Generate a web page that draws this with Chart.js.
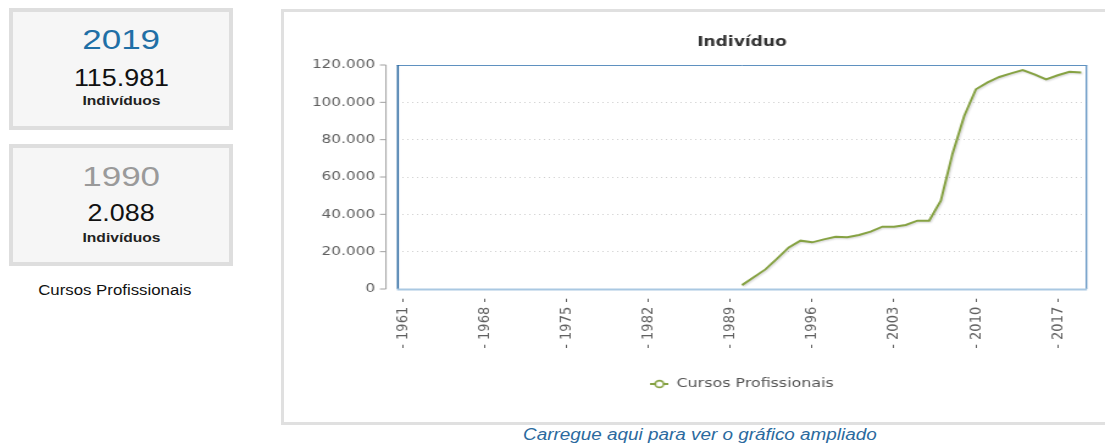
<!DOCTYPE html>
<html lang="pt">
<head>
<meta charset="utf-8">
<title>Cursos Profissionais</title>
<script src="https://cdn.jsdelivr.net/npm/chart.js@4/dist/chart.umd.min.js"></script>
<style>
body{margin:0;width:1105px;height:443px;overflow:hidden;background:#fff;font-family:Arial,"Liberation Sans",sans-serif;position:relative}
.box{position:absolute;left:9px;width:224px;height:122px;box-sizing:border-box;border:4px solid #dedede;background:#f6f6f6}
.txt{position:absolute;left:9px;width:224px;text-align:center;white-space:nowrap}
.txt span{display:inline-block}
.big{font-size:28px;line-height:32px}
.num{font-size:24px;line-height:28px;color:#111}
.num span{transform:scaleX(1.12)}
.big span{transform:scaleX(1.25)}
.unit{font-size:13px;line-height:16px;font-weight:bold;color:#222}
.unit span{transform:scaleX(1.2)}
#panel{position:absolute;left:281px;top:9px;width:840px;height:416px;box-sizing:border-box;border:3px solid #e0e0e0;background:#fff}
#wrap{position:absolute;left:284px;top:12px;width:673px;height:410px;transform:scaleX(1.22);transform-origin:0 0}
#link{position:absolute;left:400px;width:600px;top:426px;text-align:center;font-size:16px;line-height:18px;font-style:italic;color:#2b6a9e;white-space:nowrap}
#link span{display:inline-block;transform:scaleX(1.18)}
</style>
</head>
<body>

<div class="box" style="top:8px"></div>
<div class="box" style="top:144px"></div>

<div class="txt big" style="top:24px;color:#1f6fa6"><span>2019</span></div>
<div class="txt num" style="top:64px"><span>115.981</span></div>
<div class="txt unit" style="top:93px"><span>Indivíduos</span></div>

<div class="txt big" style="top:161px;color:#9a9a9a"><span>1990</span></div>
<div class="txt num" style="top:199px"><span>2.088</span></div>
<div class="txt unit" style="top:230px"><span>Indivíduos</span></div>

<div class="txt" style="top:281px;left:3px;font-size:14px;line-height:18px;color:#111"><span style="transform:scaleX(1.2)">Cursos Profissionais</span></div>

<div id="panel"></div>
<div id="wrap"><canvas id="chart" width="673" height="410"></canvas></div>

<div id="link"><span>Carregue aqui para ver o gráfico ampliado</span></div>

<script>
const years = ['1961','1962','1963','1964','1965','1966','1967','1968','1969','1970',
    '1971','1972','1973','1974','1975','1976','1977','1978','1979','1980',
    '1981','1982','1983','1984','1985','1986','1987','1988','1989','1990',
    '1991','1992','1993','1994','1995','1996','1997','1998','1999','2000',
    '2001','2002','2003','2004','2005','2006','2007','2008','2009','2010',
    '2011','2012','2013','2014','2015','2016','2017','2018','2019'];

const dataYears = ['1990','1991','1992','1993','1994','1995','1996','1997','1998','1999',
    '2000','2001','2002','2003','2004','2005','2006','2007','2008','2009',
    '2010','2011','2012','2013','2014','2015','2016','2017','2018','2019'];

const individuos = [2088, 6300, 10500, 16300, 22300, 25900, 25000, 26600, 28000, 27700,
    28900, 30700, 33400, 33400, 34300, 36600, 36600, 47300, 72500, 92700,
    107000, 110700, 113600, 115500, 117300, 115000, 112300, 114500, 116400, 115981];

const tickYears = ['1961','1968','1975','1982','1989','1996','2003','2010','2017'];

const seriesName = 'Cursos Profissionais';
const yMax = 120000;
const yStep = 20000;
const lineColor = '#86a243';

function fmt(v){
    return String(v).replace(/\B(?=(\d{3})+(?!\d))/g, '.');
}

// legend marker: line with a small hollow circle
let marker = document.createElement('canvas');
marker.width = 15;
marker.height = 10;
let m = marker.getContext('2d');
m.strokeStyle = lineColor;
m.lineWidth = 2;
m.beginPath(); m.moveTo(0,5); m.lineTo(15,5); m.stroke();
m.beginPath(); m.arc(7.5,5,3.4,0,Math.PI*2);
m.fillStyle = '#fff'; m.fill();
m.lineWidth = 1.6; m.stroke();

// y axis line set apart from the plot box, plus the box itself
const frame = {
    id: 'frame',
    beforeDatasetsDraw(chart){
        const ctx = chart.ctx;
        const a = chart.chartArea;
        const y = chart.scales.y;
        ctx.save();
        const ax = a.left - 9;
        ctx.strokeStyle = '#a0a0a0';
        ctx.lineWidth = 1;
        ctx.beginPath();
        ctx.moveTo(ax, y.getPixelForValue(yMax));
        ctx.lineTo(ax, y.getPixelForValue(0));
        y.ticks.forEach(function(t){
            const py = y.getPixelForValue(t.value);
            ctx.moveTo(ax - 5, py);
            ctx.lineTo(ax, py);
        });
        ctx.stroke();

        ctx.strokeStyle = '#5f91c0';
        ctx.lineWidth = 1;
        ctx.beginPath();
        ctx.moveTo(a.left, a.top + 0.5);
        ctx.lineTo(a.right, a.top + 0.5);
        ctx.stroke();
        ctx.lineWidth = 1.3;
        ctx.beginPath();
        ctx.moveTo(a.right - 0.5, a.top);
        ctx.lineTo(a.right - 0.5, a.bottom);
        ctx.stroke();
        ctx.strokeStyle = '#25649e';
        ctx.lineWidth = 1.5;
        ctx.beginPath();
        ctx.moveTo(a.left + 0.75, a.top);
        ctx.lineTo(a.left + 0.75, a.bottom);
        ctx.stroke();
        ctx.strokeStyle = '#a9c8e2';
        ctx.lineWidth = 2;
        ctx.beginPath();
        ctx.moveTo(a.left, a.bottom + 0.5);
        ctx.lineTo(a.right, a.bottom + 0.5);
        ctx.stroke();
        ctx.restore();
    },
    beforeDatasetDraw(chart){
        const ctx = chart.ctx;
        ctx.save();
        ctx.shadowColor = 'rgba(0,0,0,0.18)';
        ctx.shadowOffsetX = 1;
        ctx.shadowOffsetY = 1;
        ctx.shadowBlur = 2;
    },
    afterDatasetDraw(chart){
        chart.ctx.restore();
    }
};

Chart.defaults.font.family = '"DejaVu Sans", Verdana, sans-serif';

new Chart(document.getElementById('chart'), {
    type: 'line',
    data: {
        labels: years,
        datasets: [{
            label: seriesName,
            data: dataYears.map(function(yr, i){ return {x: yr, y: individuos[i]}; }),
            borderColor: lineColor,
            backgroundColor: lineColor,
            borderWidth: 2,
            pointRadius: 0,
            pointHoverRadius: 0,
            tension: 0,
            fill: false
        }]
    },
    options: {
        responsive: false,
        devicePixelRatio: 1,
        animation: false,
        layout: {padding: {left: 0, right: 14.8, top: 0, bottom: 21.5}},
        plugins: {
            title: {
                display: true,
                text: 'Indivíduo',
                fullSize: false,
                color: '#333',
                font: {size: 14, weight: 'bold'},
                padding: {top: 21.6, bottom: 14.6}
            },
            legend: {
                position: 'bottom',
                fullSize: false,
                labels: {
                    usePointStyle: true,
                    pointStyle: marker,
                    pointStyleWidth: 15,
                    color: '#555',
                    font: {size: 13},
                    padding: 10
                }
            },
            tooltip: {enabled: false}
        },
        scales: {
            x: {
                type: 'category',
                offset: true,
                grid: {display: false, drawTicks: false},
                border: {display: false},
                ticks: {
                    autoSkip: false,
                    minRotation: 90,
                    maxRotation: 90,
                    padding: 9,
                    color: '#606060',
                    font: {size: 13},
                    callback: function(val){
                        const lab = this.getLabelForValue(val);
                        return tickYears.includes(lab) ? '- ' + lab + ' -' : '';
                    }
                },
                afterFit: function(s){
                    s.height = 78.5;
                    s.paddingLeft = 0;
                    s.paddingRight = 0;
                }
            },
            y: {
                min: 0,
                max: yMax,
                grid: {drawTicks: false, color: '#cfcfcf', lineWidth: 1},
                border: {display: false, dash: [1,3]},
                ticks: {
                    stepSize: yStep,
                    padding: 18,
                    color: '#606060',
                    font: {size: 12.5},
                    callback: function(v){ return fmt(v); }
                },
                afterFit: function(s){
                    s.width = 92.6;
                    s.paddingTop = 0;
                    s.paddingBottom = 0;
                }
            }
        }
    },
    plugins: [frame]
});
</script>
</body>
</html>
